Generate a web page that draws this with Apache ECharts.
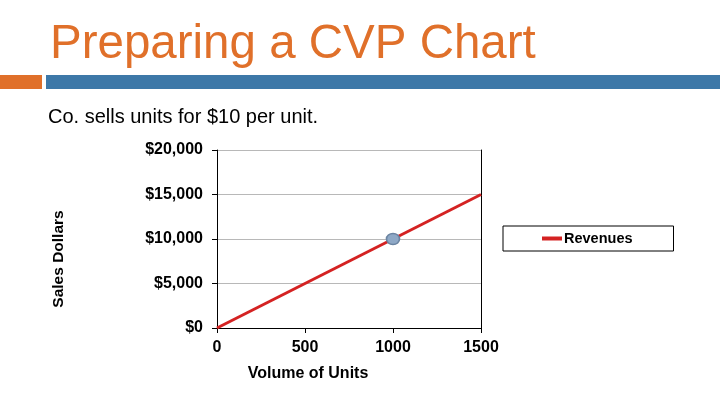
<!DOCTYPE html>
<html>
<head>
<meta charset="utf-8">
<script src="https://cdn.jsdelivr.net/npm/echarts@6/dist/echarts.min.js"></script>
<style>html,body{margin:0;padding:0;background:#fff;}#c{width:720px;height:405px;}</style>
</head>
<body>
<div id="c"></div>
<script>
var units = [0, 1500];
var revenues = [0, 15000];
var markerUnits = [1000];
var markerRevenue = [10000];
var xTicks = [0, 500, 1000, 1500];
var yTicks = [0, 5000, 10000, 15000, 20000];

var chart = echarts.init(document.getElementById('c'));
var font = '"Liberation Sans", Arial, sans-serif';
function money(v){ return '$' + v.toString().replace(/\B(?=(\d{3})+(?!\d))/g, ','); }

chart.setOption({
  animation: false,
  title: [
    {text: 'Preparing a CVP Chart', left: 50, top: 21, padding: 0,
     textStyle: {fontFamily: font, fontSize: 47.5, fontWeight: 'normal', color: '#e0702a'}},
    {text: 'Co. sells units for $10 per unit.', left: 48, top: 107, padding: 0,
     textStyle: {fontFamily: font, fontSize: 20, fontWeight: 'normal', color: '#000'}}
  ],
  graphic: [
    {type: 'rect', shape: {x: 0, y: 75, width: 42, height: 14}, style: {fill: '#e0702a'}},
    {type: 'rect', shape: {x: 46, y: 75, width: 674, height: 14}, style: {fill: '#3d78a8'}},
    {type: 'text', x: 308, y: 374, style: {text: 'Volume of Units', align: 'center', verticalAlign: 'middle',
      font: 'bold 16px ' + font, fill: '#000'}},
    {type: 'text', x: 59, y: 259, rotation: Math.PI / 2, style: {text: 'Sales Dollars', align: 'center', verticalAlign: 'middle',
      font: 'bold 15.5px ' + font, fill: '#000'}}
  ],
  legend: {
    data: ['Revenues'], left: 503, top: 226, padding: [5, 41, 5, 39],
    borderColor: '#000', borderWidth: 1, borderRadius: 0,
    icon: 'rect', itemWidth: 20, itemHeight: 4, itemGap: 0,
    textStyle: {fontFamily: font, fontSize: 14.5, fontWeight: 'bold', color: '#000', padding: [0, 0, 0, -3]}
  },
  grid: {left: 217, right: 239, top: 150, bottom: 77, containLabel: false},
  xAxis: {
    type: 'value', min: xTicks[0], max: xTicks[xTicks.length - 1], interval: 500,
    axisLine: {show: true, lineStyle: {color: '#000', width: 1}},
    axisTick: {show: true, length: 5, lineStyle: {color: '#000'}},
    axisLabel: {margin: 12, fontFamily: font, fontSize: 16, fontWeight: 'bold', color: '#000',
      formatter: function(v){ return String(v); }},
    splitLine: {show: false}
  },
  yAxis: [
    {
      type: 'value', min: yTicks[0], max: yTicks[yTicks.length - 1], interval: 5000,
      axisLine: {show: true, lineStyle: {color: '#000', width: 1}},
      axisTick: {show: true, length: 5, lineStyle: {color: '#000'}},
      axisLabel: {margin: 14, fontFamily: font, fontSize: 16, fontWeight: 'bold', color: '#000', formatter: money},
      splitLine: {show: true, lineStyle: {color: '#b8b8b8', width: 1}}
    },
    {
      type: 'value', position: 'right', min: yTicks[0], max: yTicks[yTicks.length - 1], interval: 5000,
      axisLine: {show: true, lineStyle: {color: '#000', width: 1}},
      axisTick: {show: false}, axisLabel: {show: false}, splitLine: {show: false}
    }
  ],
  series: [
    {
      name: 'Revenues', type: 'line', data: units.map(function(u, i){ return [u, revenues[i]]; }),
      showSymbol: false, symbol: 'none', lineStyle: {color: '#d42222', width: 3}, itemStyle: {color: '#d42222'}, z: 2
    },
    {
      name: 'Break', type: 'scatter', data: markerUnits.map(function(u, i){ return [u, markerRevenue[i]]; }),
      symbol: 'circle', symbolSize: [13, 11],
      itemStyle: {color: '#8ea8c6', borderColor: '#6b84a2', borderWidth: 1.5, opacity: 1}, z: 3
    }
  ]
});
</script>
</body>
</html>
